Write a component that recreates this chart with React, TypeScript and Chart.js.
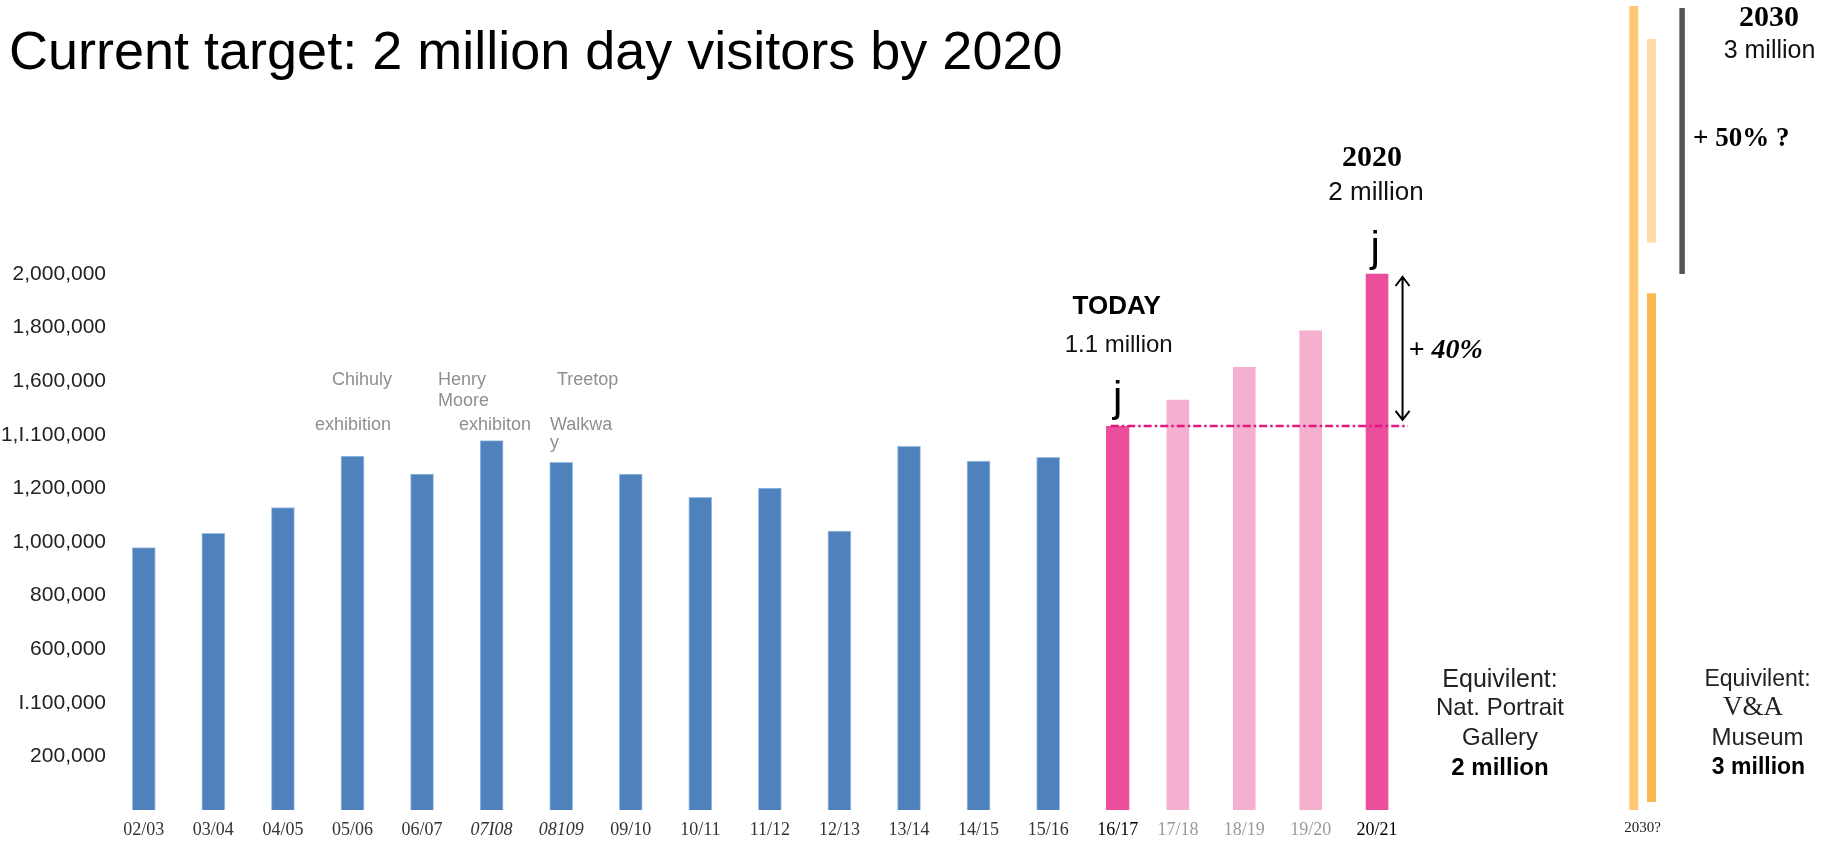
import React, { useEffect, useRef } from 'react';
import { Chart, registerables } from 'chart.js';

Chart.register(...registerables);

// ---------------- data ----------------
const actualYears = ['02/03', '03/04', '04/05', '05/06', '06/07', '07I08', '08109', '09/10', '10/11', '11/12', '12/13', '13/14', '14/15', '15/16', '16/17'];
const actualVisitors = [979000, 1032000, 1128000, 1321000, 1253000, 1378000, 1297000, 1253000, 1167000, 1201000, 1041000, 1357000, 1302000, 1316000, 1433000];
const projectionYears = ['17/18', '18/19', '19/20', '20/21'];
const projectedVisitors = [1530000, 1652000, 1788000, 2000000];
const futureYear = '2030?';
const futureGap = 3; // empty columns between 20/21 and 2030?
const futureTotal = [0, 3000000];
const futureLower = [30000, 1928000];
const futureUpper = [2117000, 2877000];
const futureTarget = 3000000;
const yTickValues = [200000, 400000, 600000, 800000, 1000000, 1200000, 1400000, 1600000, 1800000, 2000000];
const yTickLabels = ['200,000', 'I.100,000', '600,000', '800,000', '1,000,000', '1,200,000', '1,I.100,000', '1,600,000', '1,800,000', '2,000,000'];
const eventNotes = [
  ['Chihuly', 'exhibition'],
  ['Henry', 'Moore', 'exhibiton'],
  ['Treetop', 'Walkwa', 'y'],
];
const sideNotes = [
  ['Equivilent:', 'Nat. Portrait', 'Gallery', '2 million'],
  ['Equivilent:', 'V&A', 'Museum', '3 million'],
];

// axis for forecast columns: index 0 = today, 1..4 projections, then gap, then 2030?
const forecastLabels = ['', ...projectionYears, ...Array(futureGap).fill(''), futureYear];
const FUTURE_X = forecastLabels.length - 1;

// ---------------- styles ----------------
const SANS = '"Liberation Sans", Arial, Helvetica, sans-serif';
const SERIF = '"Liberation Serif", "Times New Roman", Times, serif';
const BLUE = '#4F81BD';
const DARK_PINK = '#EB4F9B';
const LIGHT_PINK = '#F5AFCF';

const annotationPlugin = {
  id: 'annotations',
  afterDatasetsDraw(chart: any) {
    const { ctx, scales } = chart;
    const x = scales.x;
    const xB = scales.xB;
    const y = scales.y;
    const today = actualVisitors[actualVisitors.length - 1];
    const target = projectedVisitors[projectedVisitors.length - 1];
    const todayX = x.getPixelForValue(actualVisitors.length - 1);
    const targetX = xB.getPixelForValue(projectedVisitors.length);
    const futureX = xB.getPixelForValue(FUTURE_X);
    const todayY = y.getPixelForValue(today);
    const targetY = y.getPixelForValue(target);
    const futureY = y.getPixelForValue(futureTarget);

    const text = (s: string, tx: number, ty: number, font: string, color: string, align: CanvasTextAlign = 'center') => {
      ctx.font = font;
      ctx.fillStyle = color;
      ctx.textAlign = align;
      ctx.textBaseline = 'middle';
      ctx.fillText(s, tx, ty);
    };

    ctx.save();

    // dash-dot "today" level line
    ctx.strokeStyle = '#E2177F';
    ctx.lineWidth = 2.5;
    ctx.setLineDash([8, 3, 2.5, 3]);
    ctx.beginPath();
    ctx.moveTo(todayX - 7, todayY);
    ctx.lineTo(targetX + 31, todayY);
    ctx.stroke();
    ctx.setLineDash([]);

    // double arrow today -> 2020 target
    const ax = targetX + 25.5;
    const aTop = targetY + 3;
    const aBot = todayY - 6;
    ctx.strokeStyle = '#000';
    ctx.lineWidth = 2;
    ctx.beginPath();
    ctx.moveTo(ax, aTop);
    ctx.lineTo(ax, aBot);
    ctx.moveTo(ax - 7, aTop + 9);
    ctx.lineTo(ax, aTop);
    ctx.lineTo(ax + 7, aTop + 9);
    ctx.moveTo(ax - 7, aBot - 9);
    ctx.lineTo(ax, aBot);
    ctx.lineTo(ax + 7, aBot - 9);
    ctx.stroke();
    text('+ 40%', ax + 6, (aTop + aBot) / 2 + 2, `italic bold 28px ${SERIF}`, '#000', 'left');

    // grey bracket 2020 -> 2030
    const gx = futureX + 39.5;
    ctx.strokeStyle = '#555';
    ctx.lineWidth = 5.5;
    ctx.beginPath();
    ctx.moveTo(gx, futureY + 2);
    ctx.lineTo(gx, targetY);
    ctx.stroke();
    text('+ 50% ?', gx + 11, 139, `bold 27px ${SERIF}`, '#000', 'left');

    // "j" markers
    ctx.font = `42px ${SANS}`;
    ctx.fillStyle = '#000';
    ctx.textAlign = 'center';
    ctx.textBaseline = 'alphabetic';
    ctx.fillText('j', todayX, todayY - 15);
    ctx.fillText('j', targetX - 2, targetY - 13);

    // callouts
    text('TODAY', todayX - 1, 307, `bold 26px ${SANS}`, '#000');
    text('1.1 million', todayX + 1, 345, `24px ${SANS}`, '#111');
    text('2020', targetX - 5, 158, `bold 30px ${SERIF}`, '#000');
    text('2 million', targetX - 1, 193, `26px ${SANS}`, '#111');
    text('2030', 1769, 18, `bold 30px ${SERIF}`, '#000');
    text('3 million', 1769.5, 51, `25px ${SANS}`, '#111');

    // title
    text('Current target: 2 million day visitors by 2020', 9, 54, `54px ${SANS}`, '#000', 'left');

    // event notes
    const noteFont = `18px ${SANS}`;
    const noteColor = '#8f8f8f';
    text(eventNotes[0][0], 332, 380, noteFont, noteColor, 'left');
    text(eventNotes[0][1], 315, 425, noteFont, noteColor, 'left');
    text(eventNotes[1][0], 438, 380, noteFont, noteColor, 'left');
    text(eventNotes[1][1], 438, 401, noteFont, noteColor, 'left');
    text(eventNotes[1][2], 459, 425, noteFont, noteColor, 'left');
    text(eventNotes[2][0], 557, 380, noteFont, noteColor, 'left');
    text(eventNotes[2][1], 550, 425, noteFont, noteColor, 'left');
    text(eventNotes[2][2], 550, 443, noteFont, noteColor, 'left');

    // side notes
    const rows = [680, 708, 738.5, 768];
    const [a, b] = sideNotes;
    text(a[0], 1500, rows[0], `25px ${SANS}`, '#222');
    text(a[1], 1500, rows[1], `24px ${SANS}`, '#222');
    text(a[2], 1500, rows[2], `24px ${SANS}`, '#222');
    text(a[3], 1500, rows[3], `bold 24px ${SANS}`, '#000');
    text(b[0], 1757.5, rows[0], `23px ${SANS}`, '#222');
    text(b[1], 1753, rows[1], `27px ${SERIF}`, '#222');
    text(b[2], 1757.5, rows[2], `24px ${SANS}`, '#222');
    text(b[3], 1758.5, rows[3], `bold 23px ${SANS}`, '#000');

    ctx.restore();
  },
};

export default function App() {
  const canvasRef = useRef<HTMLCanvasElement>(null);

  useEffect(() => {
    const canvas = canvasRef.current;
    if (!canvas) return;

    const chart = new Chart(canvas, {
      type: 'bar',
      data: {
        datasets: [
          {
            label: 'Visitors',
            xAxisID: 'x',
            yAxisID: 'y',
            data: actualVisitors.map((v, i) => ({ x: i, y: v })),
            backgroundColor: actualVisitors.map((_, i) => (i === actualVisitors.length - 1 ? DARK_PINK : BLUE)),
            borderColor: actualVisitors.map((_, i) => (i === actualVisitors.length - 1 ? DARK_PINK : '#9cbfe4')),
            borderWidth: 1,
            grouped: false,
            barThickness: 23,
          } as any,
          {
            label: 'Projection',
            xAxisID: 'xB',
            yAxisID: 'y',
            data: projectedVisitors.map((v, i) => ({ x: i + 1, y: v })),
            backgroundColor: projectedVisitors.map((_, i) => (i === projectedVisitors.length - 1 ? DARK_PINK : LIGHT_PINK)),
            borderWidth: 0,
            grouped: false,
            barThickness: 22,
          } as any,
          {
            label: '2030 total',
            xAxisID: 'xB',
            yAxisID: 'y',
            data: [{ x: FUTURE_X, y: futureTotal }],
            backgroundColor: '#FFC872',
            borderColor: 'rgba(0,0,0,0)',
            borderWidth: { left: 4.7, right: 4.7, top: 0, bottom: 0 },
            borderSkipped: false,
            grouped: true,
            barThickness: 17.7,
            clip: false,
          } as any,
          {
            label: '2030 split',
            xAxisID: 'xB',
            yAxisID: 'y',
            data: [
              { x: FUTURE_X, y: futureLower },
              { x: FUTURE_X, y: futureUpper },
            ],
            backgroundColor: ['#FBB94D', '#FDDCA8'],
            borderColor: 'rgba(0,0,0,0)',
            borderWidth: { left: 4.7, right: 4.7, top: 0, bottom: 0 },
            borderSkipped: false,
            grouped: true,
            barThickness: 17.7,
            clip: false,
          } as any,
        ],
      },
      options: {
        responsive: false,
        animation: false,
        devicePixelRatio: 1,
        events: [],
        layout: { padding: { top: 6, right: 127, bottom: 0, left: 0 } },
        plugins: { legend: { display: false }, tooltip: { enabled: false }, title: { display: false } },
        scales: {
          y: {
            type: 'linear',
            position: 'left',
            min: 0,
            max: futureTarget,
            stacked: false,
            grid: { display: false, drawTicks: false },
            border: { display: false },
            afterBuildTicks: (s: any) => {
              s.ticks = yTickValues.map((v) => ({ value: v }));
            },
            afterFit: (s: any) => {
              s.width = 109;
              s.paddingTop = 0;
              s.paddingBottom = 0;
            },
            ticks: {
              padding: 3,
              color: '#222',
              font: { family: SANS, size: 21 },
              callback: (v: any) => {
                const i = yTickValues.indexOf(Number(v));
                return i >= 0 ? yTickLabels[i] : '';
              },
            },
          },
          x: {
            type: 'linear',
            axis: 'x',
            position: 'bottom',
            weight: 1,
            min: -0.5,
            max: actualYears.length + projectionYears.length + futureGap + 0.5,
            offset: false,
            grid: { display: false, drawTicks: false, offset: false },
            border: { display: false },
            afterBuildTicks: (s: any) => {
              s.ticks = actualYears.map((_, i) => ({ value: i }));
            },
            afterFit: (s: any) => {
              s.height = 37;
              s.paddingLeft = 0;
              s.paddingRight = 0;
            },
            ticks: {
              autoSkip: false,
              maxRotation: 0,
              minRotation: 0,
              padding: 9,
              color: (c: any) => (c.index === actualYears.length - 1 ? '#000' : '#333'),
              font: (c: any) => ({
                family: SERIF,
                size: 18,
                style: c.index === 5 || c.index === 6 ? 'italic' : 'normal',
              }),
              callback: (v: any) => actualYears[Number(v)] ?? '',
            },
          },
          xB: {
            type: 'linear',
            axis: 'x',
            position: { y: 0 },
            min: -15.1,
            max: 9,
            offset: false,
            grid: { display: false, drawTicks: false, offset: false },
            border: { display: false },
            afterBuildTicks: (s: any) => {
              s.ticks = forecastLabels
                .map((l, i) => ({ l, i }))
                .filter((t) => t.l !== '')
                .map((t) => ({ value: t.i }));
            },
            afterFit: (s: any) => {
              s.paddingLeft = 0;
              s.paddingRight = 0;
            },
            ticks: {
              autoSkip: false,
              maxRotation: 0,
              minRotation: 0,
              padding: 9,
              color: (c: any) => {
                const v = c.tick ? c.tick.value : 0;
                if (v === FUTURE_X) return '#222';
                if (v === projectionYears.length) return '#000';
                return '#9a9a9a';
              },
              font: (c: any) => ({
                family: SERIF,
                size: c.tick && c.tick.value === FUTURE_X ? 15 : 18,
              }),
              callback: (v: any) => forecastLabels[Number(v)] ?? '',
            },
          },
        } as any,
      },
      plugins: [annotationPlugin],
    } as any);

    return () => chart.destroy();
  }, []);

  return (
    <div style={{ position: 'absolute', left: 0, top: 0, width: 1836, height: 847, background: '#fff' }}>
      <canvas ref={canvasRef} width={1836} height={847} style={{ display: 'block', width: 1836, height: 847 }} />
    </div>
  );
}
